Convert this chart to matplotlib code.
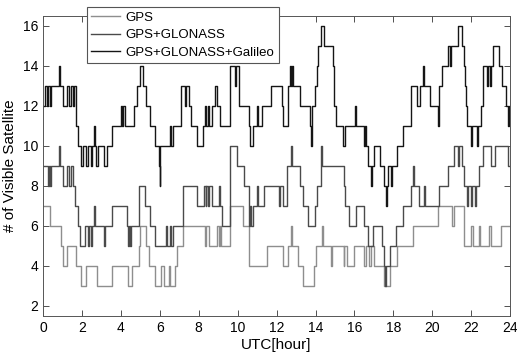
import matplotlib
matplotlib.use('Agg')
import matplotlib.pyplot as plt

plt.rcParams.update({'font.family': ['Liberation Sans', 'DejaVu Sans'],
                     'xtick.direction': 'in', 'ytick.direction': 'in',
                     'xtick.top': True, 'ytick.right': True})

# change times [hour] and number of visible satellites after each change
gps_t = [0, 0.35, 0.95, 1.02, 1.22, 1.72, 1.98, 2.2, 2.76, 3.55, 4.35, 4.6, 4.95, 5.0,
         5.3, 5.45, 5.75, 6.05, 6.2, 6.45, 6.55, 6.8, 6.9, 7.2, 8.3, 8.4, 8.55, 8.95,
         9.02, 9.1, 9.15, 9.6, 10.3, 10.6, 11.5, 12.35, 12.6, 12.75, 12.8, 13.1, 13.35,
         13.9, 14.0, 14.35, 14.4, 14.8, 14.85, 15.45, 15.48, 15.6, 16.0, 16.5, 16.58,
         16.75, 16.85, 17.0, 17.5, 17.8, 18.2, 19.0, 20.3, 21.0, 21.1, 21.6, 22.0, 22.1,
         22.4, 22.45, 22.9, 23.0, 23.5]
gps_v = [7, 6, 5, 4, 5, 4, 3, 4, 3, 4, 3, 4, 5, 6,
         5, 4, 3, 4, 3, 4, 3, 4, 5, 6, 5, 6, 5, 6,
         5, 6, 5, 7, 6, 4, 5, 4, 5, 6, 5, 4, 3,
         4, 5, 6, 5, 4, 5, 4, 5, 4, 5, 4, 5,
         4, 5, 4, 3, 4, 5, 6, 7, 6, 7, 5, 6, 5,
         6, 5, 6, 5, 6]

glo_t = [0, 0.25, 0.3, 0.35, 0.4, 0.85, 0.9, 1.05, 1.25, 1.35, 1.45, 1.55, 1.65, 1.78,
         1.9, 2.15, 2.3, 2.35, 2.45, 2.5, 2.6, 2.7, 3.15, 3.2, 3.55, 4.3, 4.35, 4.4,
         4.45, 4.5, 4.95, 5.25, 5.5, 5.75, 6.3, 6.35, 6.55, 6.6, 6.7, 7.2, 7.9, 8.25,
         8.35, 8.4, 8.5, 8.55, 8.7, 9.05, 9.1, 9.2, 9.6, 9.95, 10.35, 10.6, 10.65, 10.7,
         10.8, 11.0, 11.05, 11.35, 12.1, 12.2, 12.35, 12.55, 12.75, 12.8, 13.2, 13.35,
         13.6, 13.95, 14.1, 14.3, 14.35, 15.45, 15.5, 15.7, 16.1, 16.5, 16.7, 16.95,
         17.4, 17.5, 17.55, 17.6, 17.8, 18.15, 18.5, 18.9, 19.0, 19.05, 19.3, 19.55,
         19.6, 20.35, 20.8, 21.1, 21.3, 21.35, 21.5, 21.6, 21.8, 21.85, 22.0, 22.05,
         22.2, 22.25, 22.4, 22.6, 23.0, 23.2, 23.9]
glo_v = [9, 8, 9, 8, 9, 10, 9, 8, 9, 8, 9, 8, 7, 6,
         5, 6, 5, 6, 5, 6, 7, 6, 5, 6, 7, 6, 5, 6,
         5, 6, 8, 7, 6, 5, 6, 5, 6, 5, 6, 8, 7, 8,
         7, 8, 7, 8, 7, 8, 7, 6, 10, 9, 8, 6, 7, 6,
         7, 8, 7, 8, 7, 8, 7, 9, 10, 9, 8, 7,
         6, 7, 8, 10, 9, 8, 7, 6, 7, 6, 5, 6,
         5, 4, 3, 4, 5, 6, 7, 8, 9, 8, 7, 8,
         7, 8, 9, 10, 9, 10, 9, 8, 7, 8, 7, 8,
         7, 8, 9, 10, 9, 10, 9]

gal_t = [0, 0.12, 0.2, 0.25, 0.35, 0.4, 0.85, 0.9, 1.05, 1.22, 1.35, 1.45, 1.55, 1.6,
         1.72, 1.8, 1.95, 2.05, 2.2, 2.3, 2.45, 2.5, 2.6, 2.65, 2.75, 2.85, 3.15, 3.3,
         3.55, 4.0, 4.05, 4.12, 4.2, 4.7, 4.85, 5.0, 5.15, 5.3, 5.5, 5.75, 5.95, 6.0,
         6.03, 6.55, 6.6, 6.7, 7.1, 7.3, 7.35, 7.5, 7.6, 7.9, 8.2, 8.3, 8.4, 8.5, 8.55,
         8.7, 8.85, 8.92, 9.1, 9.6, 9.85, 9.9, 10.05, 10.6, 10.65, 10.8, 11.0, 11.05,
         11.25, 11.7, 12.3, 12.35, 12.6, 12.7, 12.75, 12.8, 12.85, 13.2, 13.7, 13.75,
         13.8, 13.95, 14.05, 14.15, 14.3, 14.45, 14.9, 14.95, 15.05, 15.4, 15.5, 16.05,
         16.1, 16.5, 16.55, 16.6, 16.7, 16.85, 16.9, 17.0, 17.3, 17.5, 17.6, 17.65, 17.7,
         17.9, 17.95, 18.2, 18.5, 18.9, 19.2, 19.35, 19.5, 19.55, 19.9, 20.3, 20.35,
         20.5, 20.8, 20.9, 20.95, 21.3, 21.5, 21.6, 21.65, 21.75, 21.8, 22.0, 22.05,
         22.3, 22.35, 22.5, 22.6, 22.8, 22.85, 22.95, 23.0, 23.1, 23.4, 23.6, 23.8,
         23.9, 23.95]
gal_v = [12, 13, 12, 13, 12, 13, 14, 13, 12, 13, 12, 13, 12, 13,
         11, 10, 9, 10, 9, 10, 9, 10, 11, 10, 9, 10, 9, 10,
         11, 12, 11, 12, 11, 12, 13, 14, 13, 12, 11, 10, 9, 8,
         10, 11, 10, 11, 13, 12, 13, 12, 11, 10, 11, 12, 11, 12, 11,
         12, 13, 12, 11, 14, 13, 14, 12, 11, 10, 11, 12, 11,
         12, 13, 12, 11, 13, 14, 13, 14, 13, 12, 11, 10,
         12, 13, 14, 15, 16, 15, 14, 12, 11, 10, 11, 12,
         11, 10, 11, 10, 9, 8, 9, 10, 9, 8, 7, 8, 9,
         8, 9, 10, 11, 13, 12, 13, 14, 13, 12, 11, 13,
         14, 15, 14, 15, 16, 15, 14, 13, 12, 11, 10, 11,
         10, 11, 12, 14, 13, 14, 13, 14, 15, 14, 13, 12,
         11, 12]

labels = ['GPS', 'GPS+GLONASS', 'GPS+GLONASS+Galileo']
colors = ['#8e8e8e', '#4a4a4a', '#151515']

fig = plt.figure(figsize=(5.17, 3.55), dpi=100)
ax = fig.add_axes([0.083, 0.110, 0.904, 0.845])

for t, v, lab, c in zip([gps_t, glo_t, gal_t], [gps_v, glo_v, gal_v], labels, colors):
    ax.step(t + [24], v + [v[-1]], where='post', color=c, lw=1.0, label=lab)

ax.set_xlim(0, 24)
ax.set_ylim(1.5, 16.5)
ax.set_xticks(range(0, 25, 2))
ax.set_yticks(range(2, 17, 2))
ax.tick_params(labelsize=10, length=4, width=0.6, colors='#333333', labelcolor='black')
for s in ax.spines.values():
    s.set_linewidth(0.7)
    s.set_color('#555555')
ax.set_xlabel('UTC[hour]', fontsize=11, labelpad=2)
ax.set_ylabel('# of Visible Satellite', fontsize=11, labelpad=4)

leg = ax.legend(loc='upper left', bbox_to_anchor=(0.094, 1.03), fontsize=9.5,
                fancybox=False, edgecolor='#555555', framealpha=1, handlelength=2.2,
                borderpad=0.35, labelspacing=0.4, handletextpad=0.4, borderaxespad=0)
leg.get_frame().set_linewidth(0.8)

fig.savefig('out.png', dpi=100)
